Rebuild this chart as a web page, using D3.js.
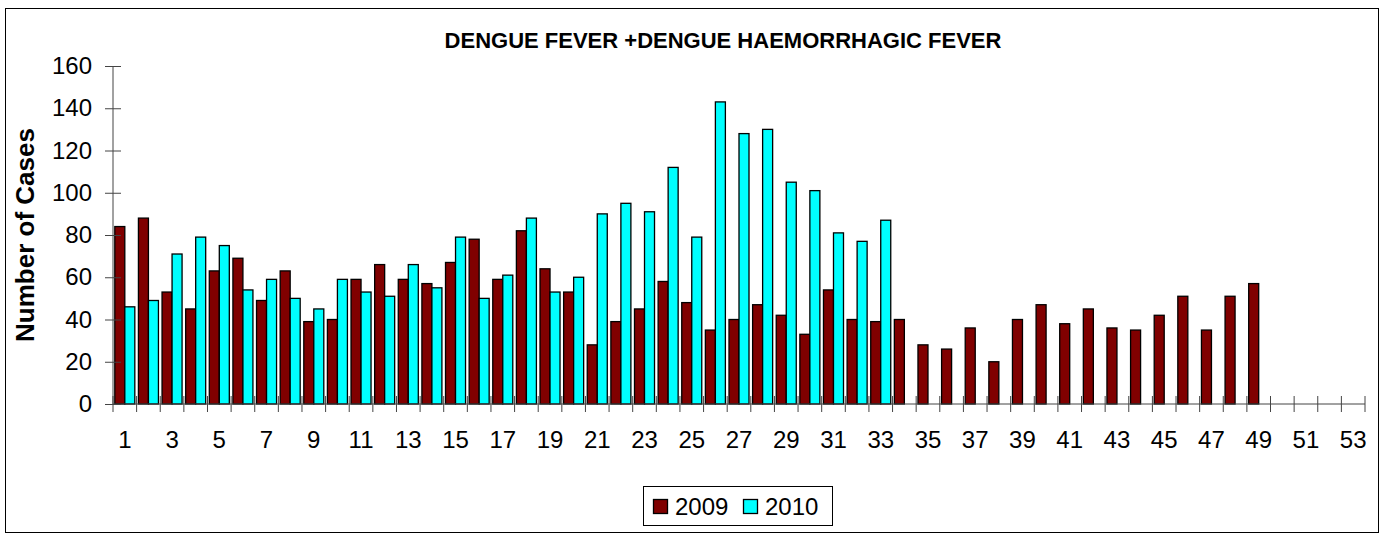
<!DOCTYPE html>
<html>
<head>
<meta charset="utf-8">
<script src="https://cdn.jsdelivr.net/npm/d3@7"></script>
<style>
  body { margin: 0; background: #fff; }
  svg text { font-family: Arial, "Liberation Sans", sans-serif; fill: #000; }
</style>
</head>
<body>
<svg width="1386" height="535"></svg>
<script>
var weeks = d3.range(1, 54);
var seriesNames = ["2009", "2010"];
var cases2009 = [84, 88, 53, 45, 63, 69, 49, 63, 39, 40, 59, 66, 59, 57, 67, 78, 59, 82, 64, 53,
    28, 39, 45, 58, 48, 35, 40, 47, 42, 33, 54, 40, 39, 40, 28, 26, 36, 20, 40, 47,
    38, 45, 36, 35, 42, 51, 35, 51, 57];
var cases2010 = [46, 49, 71, 79, 75, 54, 59, 50, 45, 59, 53, 51, 66, 55, 79, 50, 61, 88, 53, 60,
    90, 95, 91, 112, 79, 143, 128, 130, 105, 101, 81, 77, 87];
var yTicks = [0, 20, 40, 60, 80, 100, 120, 140, 160];
var colors = { "2009": "#800000", "2010": "#00ffff" };

var svg = d3.select("svg"),
    width = +svg.attr("width"),
    height = +svg.attr("height");

var margin = { left: 113, right: 21, top: 66, bottom: 131 };
var plotW = width - margin.left - margin.right,
    plotH = height - margin.top - margin.bottom;

// outer border
svg.append("rect")
    .attr("x", 5.5).attr("y", 8.5)
    .attr("width", 1373).attr("height", 524)
    .attr("fill", "#fff")
    .attr("stroke", "#000");

var x = d3.scaleBand()
    .domain(weeks)
    .range([margin.left, margin.left + plotW])
    .padding(0);

var x1 = d3.scaleBand()
    .domain(seriesNames)
    .range([0, x.bandwidth()])
    .paddingInner(0)
    .paddingOuter(0.18);

var y = d3.scaleLinear()
    .domain([0, 160])
    .range([margin.top + plotH, margin.top]);

// bars
var rows = [];
weeks.forEach(function(w, i) {
    if (cases2009[i] != null) rows.push({ week: w, series: "2009", value: cases2009[i] });
    if (cases2010[i] != null) rows.push({ week: w, series: "2010", value: cases2010[i] });
});

svg.append("g")
    .selectAll("rect")
    .data(rows)
    .enter().append("rect")
    .attr("x", function(d) { return x(d.week) + x1(d.series); })
    .attr("y", function(d) { return y(d.value); })
    .attr("width", x1.bandwidth())
    .attr("height", function(d) { return y(0) - y(d.value); })
    .attr("fill", function(d) { return colors[d.series]; })
    .attr("stroke", "#000")
    .attr("stroke-width", 1.3);

// y axis
var yAxis = svg.append("g")
    .attr("transform", "translate(" + margin.left + ",0)")
    .call(d3.axisLeft(y).tickValues(yTicks).tickSize(8).tickPadding(13));
yAxis.selectAll(".tick line").attr("x2", 8).attr("x1", -8).attr("stroke", "#444");
yAxis.select(".domain").attr("stroke", "#444").attr("d", "M0," + y(160) + "V" + y(0));
yAxis.selectAll("text").attr("font-size", 24).attr("x", -21);

// x axis: ticks on category edges, labels on odd weeks
var bottom = y(0);
var edges = d3.range(0, 54).map(function(i) {
    return i < 53 ? x(weeks[i]) : x(weeks[52]) + x.bandwidth();
});
svg.append("line")
    .attr("x1", margin.left).attr("x2", margin.left + plotW)
    .attr("y1", bottom).attr("y2", bottom)
    .attr("stroke", "#444");
svg.append("g")
    .selectAll("line")
    .data(edges)
    .enter().append("line")
    .attr("x1", function(d) { return d; })
    .attr("x2", function(d) { return d; })
    .attr("y1", bottom - 8).attr("y2", bottom + 8)
    .attr("stroke", "#444");
svg.append("g")
    .selectAll("text")
    .data(weeks.filter(function(w) { return w % 2 === 1; }))
    .enter().append("text")
    .attr("x", function(d) { return x(d) + x.bandwidth() / 2; })
    .attr("y", bottom + 44)
    .attr("text-anchor", "middle")
    .attr("font-size", 24)
    .text(function(d) { return d; });

// titles
svg.append("text")
    .attr("x", 723).attr("y", 48)
    .attr("text-anchor", "middle")
    .attr("font-size", 22)
    .attr("font-weight", "bold")
    .text("DENGUE FEVER +DENGUE HAEMORRHAGIC FEVER");

svg.append("text")
    .attr("transform", "translate(34," + (margin.top + plotH / 2) + ") rotate(-90)")
    .attr("text-anchor", "middle")
    .attr("font-size", 26)
    .attr("font-weight", "bold")
    .text("Number of Cases");

// legend
var legend = svg.append("g");
legend.append("rect")
    .attr("x", 643.5).attr("y", 486.5)
    .attr("width", 189).attr("height", 39)
    .attr("fill", "#fff")
    .attr("stroke", "#000");
var items = legend.selectAll("g.item")
    .data(seriesNames)
    .enter().append("g")
    .attr("class", "item")
    .attr("transform", function(d, i) { return "translate(" + (653 + i * 90) + ",0)"; });
items.append("rect")
    .attr("x", 0.5).attr("y", 499.5)
    .attr("width", 14).attr("height", 14)
    .attr("fill", function(d) { return colors[d]; })
    .attr("stroke", "#000")
    .attr("stroke-width", 1.3);
items.append("text")
    .attr("x", 22).attr("y", 515)
    .attr("font-size", 24)
    .text(function(d) { return d; });
</script>
</body>
</html>
